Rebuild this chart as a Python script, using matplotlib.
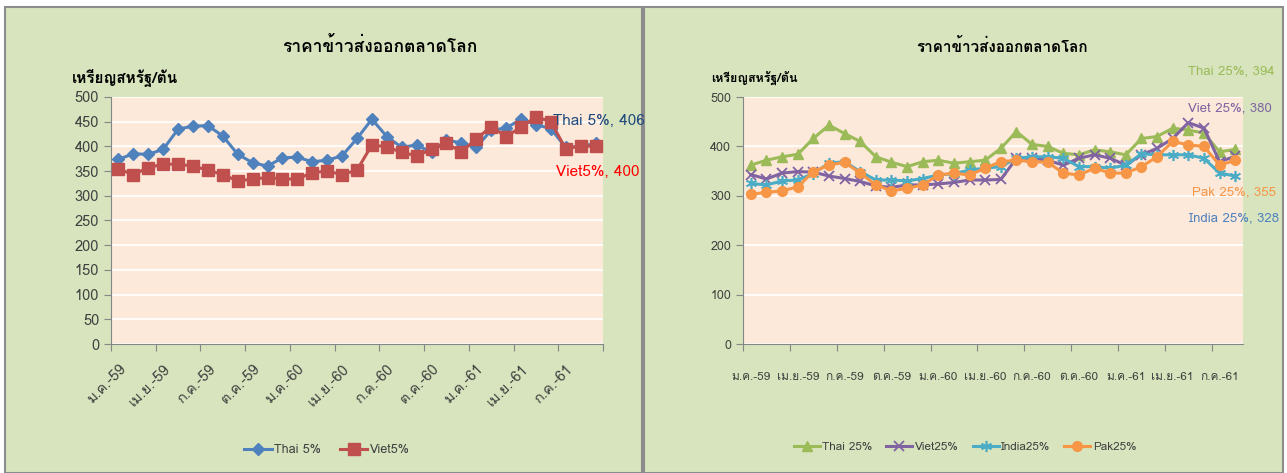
import matplotlib
matplotlib.use("Agg")
import matplotlib.pyplot as plt
from matplotlib import font_manager
from matplotlib.ft2font import FT2Font
from matplotlib.patches import Rectangle

# find a font that actually has Thai glyphs
thai_fonts = []
for f in font_manager.fontManager.ttflist:
    try:
        if FT2Font(f.fname).get_char_index(ord("ร")) and f.name not in thai_fonts:
            thai_fonts.append(f.name)
    except Exception:
        pass
plt.rcParams["font.family"] = thai_fonts[:1] + ["DejaVu Sans"]

months_left = ["ม.ค.-59", "เม.ย.-59", "ก.ค.-59", "ต.ค.-59", "ม.ค.-60", "เม.ย.-60",
               "ก.ค.-60", "ต.ค.-60", "ม.ค.-61", "เม.ย.-61", "ก.ค.-61"]
months_right = months_left

thai5 = [374, 385, 384, 394, 435, 441, 442, 421, 384, 367, 360, 377, 378, 369, 372, 381,
         416, 455, 420, 398, 403, 388, 413, 407, 398, 433, 437, 455, 444, 436, 398, 400, 406]
viet5 = [354, 343, 357, 364, 364, 360, 352, 343, 330, 334, 337, 334, 334, 347, 350, 343,
         352, 403, 399, 388, 381, 394, 406, 389, 415, 440, 420, 439, 460, 450, 395, 401, 400]

thai25 = [362, 372, 379, 384, 416, 443, 426, 410, 379, 368, 359, 369, 372, 366, 369, 372,
          396, 430, 404, 400, 386, 383, 393, 389, 383, 416, 420, 437, 433, 427, 389, 394]
viet25 = [343, 334, 346, 349, 348, 340, 335, 329, 320, 317, 322, 322, 324, 327, 332, 332,
          333, 376, 376, 372, 362, 376, 383, 376, 362, 383, 396, 416, 448, 437, 369, 380]
india25 = [325, 322, 330, 332, 345, 366, 369, 349, 332, 332, 330, 335, 342, 345, 352, 356,
           359, 376, 379, 379, 376, 359, 359, 356, 362, 385, 383, 383, 383, 376, 346, 340]
pak25 = [303, 307, 310, 318, 349, 362, 368, 346, 322, 310, 315, 322, 342, 346, 342, 356,
         369, 372, 369, 368, 346, 342, 356, 346, 346, 359, 379, 410, 403, 400, 362, 372]

TITLE = "ราคาข้าวส่งออกตลาดโลก"
YLABEL = "เหรียญสหรัฐ/ตัน"

BG = "#D7E4BD"
PLOT_BG = "#FDE9D9"
AXIS_C = "#868686"
TEXT_C = "#404040"

W, H = 1287, 473
fig = plt.figure(figsize=(W / 100, H / 100), dpi=100, facecolor="white")

# the two chart frames
for x0, x1 in [(5, 642), (644, 1283)]:
    fig.patches.append(Rectangle((x0 / W, 0), (x1 - x0) / W, 1 - 7 / H,
                                 transform=fig.transFigure, facecolor=BG,
                                 edgecolor="#8C8C8C", linewidth=1.5, zorder=-10))


def style_axes(ax, n, step):
    ax.set_zorder(5)
    ax.set_facecolor(PLOT_BG)
    for s in ["top", "right"]:
        ax.spines[s].set_visible(False)
    for s in ["left", "bottom"]:
        ax.spines[s].set_color(AXIS_C)
    ax.yaxis.grid(True, color="white", linewidth=1.2)
    ax.set_axisbelow(True)
    ax.set_xlim(-0.5, n - 0.5)
    ax.set_ylim(0, 500)
    ax.set_xticks([i - 0.5 for i in range(0, n + 1, 3)])
    ax.set_xticklabels([])
    ax.tick_params(axis="x", which="major", length=5, color=AXIS_C)
    ax.tick_params(axis="y", length=5, color=AXIS_C, labelcolor=TEXT_C)
    ax.set_yticks(range(0, 501, step))


# ---- left chart
ax1 = fig.add_axes([111 / W, 1 - 344 / H, 492 / W, 247 / H])
style_axes(ax1, len(thai5), 50)
x1 = list(range(len(thai5)))
ax1.plot(x1, thai5, color="#4F81BD", lw=2.2, marker="D", ms=6.5, label="Thai 5%", zorder=3)
ax1.plot(x1, viet5, color="#C0504D", lw=2.2, marker="s", ms=8, label="Viet5%", zorder=3)
ax1.set_xticks(range(0, len(thai5), 3), minor=True)
ax1.set_xticklabels(months_left, minor=True, rotation=45, ha="right",
                    rotation_mode="anchor", fontsize=10.5, color=TEXT_C)
ax1.tick_params(axis="x", which="minor", length=0, pad=13)
ax1.tick_params(axis="y", labelsize=10.5)

fig.text(553 / W, 1 - 121 / H, f"Thai 5%, {thai5[-1]}", color="#1F497D",
         fontsize=11, va="center", ha="left", zorder=10)
fig.text(556 / W, 1 - 172 / H, f"Viet5%, {viet5[-1]}", color="#FF0000",
         fontsize=11, va="center", ha="left", zorder=10)
fig.text(380 / W, 1 - 46 / H, TITLE, ha="center", va="center", fontsize=12.5,
         fontweight="bold", color="black")
fig.text(72 / W, 1 - 78 / H, YLABEL, ha="left", va="center", fontsize=11,
         fontweight="bold", color="black")
fig.legend(handles=ax1.get_lines(), loc="center", ncol=2, frameon=False,
           bbox_to_anchor=(327 / W, 1 - 450 / H), fontsize=9, handlelength=2.2,
           columnspacing=1.5, handletextpad=0.2, labelcolor=TEXT_C)

# ---- right chart
ax2 = fig.add_axes([743 / W, 1 - 344 / H, 500 / W, 247 / H])
style_axes(ax2, len(thai25), 100)
x2 = list(range(len(thai25)))
ax2.plot(x2, thai25, color="#9BBB59", lw=2.2, marker="^", ms=7, label="Thai 25%", zorder=3)
ax2.plot(x2, viet25, color="#8064A2", lw=2.2, marker="x", ms=7, mew=1.3, label="Viet25%", zorder=3)
ax2.plot(x2, india25, color="#4BACC6", lw=2.2, marker=(6, 2, 0), ms=8, mew=1.2, label="India25%", zorder=3)
ax2.plot(x2, pak25, color="#F79646", lw=2.2, marker="o", ms=7, label="Pak25%", zorder=3)
ax2.set_xticks(range(0, len(thai25), 3), minor=True)
ax2.set_xticklabels(months_right, minor=True, fontsize=8.5, color=TEXT_C)
ax2.tick_params(axis="x", which="minor", length=0, pad=20)
ax2.tick_params(axis="y", labelsize=9)

fig.text(1188 / W, 1 - 71 / H, f"Thai 25%, {thai25[-1]}", color="#9BBB59",
         fontsize=9.5, va="center", ha="left", zorder=10)
fig.text(1188 / W, 1 - 108 / H, f"Viet 25%, {viet25[-1]}", color="#8064A2",
         fontsize=9.5, va="center", ha="left", zorder=10)
fig.text(1192 / W, 1 - 192 / H, "Pak 25%, 355", color="#F79646",
         fontsize=9.5, va="center", ha="left", zorder=10)
fig.text(1189 / W, 1 - 218 / H, "India 25%, 328", color="#4F81BD",
         fontsize=9.5, va="center", ha="left", zorder=10)
fig.text(1002 / W, 1 - 46 / H, TITLE, ha="center", va="center", fontsize=11,
         fontweight="bold", color="black")
fig.text(711 / W, 1 - 78 / H, YLABEL, ha="left", va="center", fontsize=9,
         fontweight="bold", color="black")
fig.legend(handles=ax2.get_lines(), loc="center", ncol=4, frameon=False,
           bbox_to_anchor=(965 / W, 1 - 447 / H), fontsize=8.5, handlelength=2.2,
           columnspacing=1.2, handletextpad=0.2, labelcolor=TEXT_C)

fig.savefig("out.png", dpi=100, facecolor="white")
